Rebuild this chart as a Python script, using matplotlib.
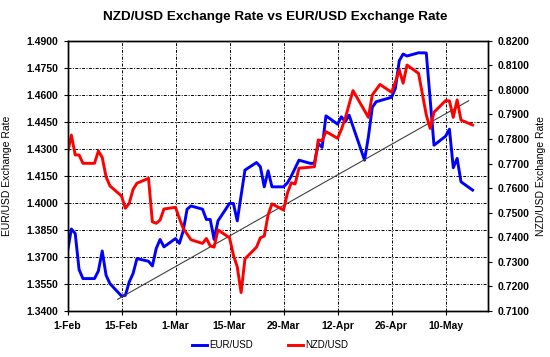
import matplotlib
matplotlib.use('Agg')
import matplotlib.pyplot as plt

# ---- data (day offsets from 1-Feb) ----
eur_days = [0, 1, 2, 3, 4, 7, 8, 9, 10, 11, 14, 15, 16, 17, 18, 21, 22, 23, 24, 25,
            28, 29, 30, 31, 32, 35, 36, 37, 38, 39, 42, 43, 44, 46, 49, 50, 51, 52, 53,
            56, 57, 58, 60, 63, 64, 65, 66, 67, 70, 71, 72, 73, 77, 78, 79, 80, 84, 85,
            86, 87, 88, 91, 93, 95, 98, 99, 100, 101, 102, 105]
eur_vals = [1.3730, 1.3855, 1.3830, 1.3630, 1.3580, 1.3580, 1.3622, 1.3733, 1.3598, 1.3552,
            1.3483, 1.3487, 1.3561, 1.3608, 1.3691, 1.3676, 1.3650, 1.3747, 1.3797, 1.3756,
            1.3802, 1.3775, 1.3845, 1.3965, 1.3983, 1.3965, 1.3908, 1.3908, 1.3797, 1.3900,
            1.3997, 1.3997, 1.3900, 1.4182, 1.4224, 1.4200, 1.4089, 1.4178, 1.4089,
            1.4089, 1.4111, 1.4148, 1.4237, 1.4219, 1.4220, 1.4330, 1.4308, 1.4483, 1.4437,
            1.4478, 1.4450, 1.4487, 1.4237, 1.4367, 1.4530, 1.4561, 1.4586, 1.4636,
            1.4789, 1.4826, 1.4815, 1.4833, 1.4832, 1.4320, 1.4370, 1.4409, 1.4195, 1.4247,
            1.4117, 1.4071]

nzd_days = [0, 1, 2, 3, 4, 7, 8, 9, 10, 11, 14, 15, 16, 17, 18, 21, 22, 23, 24, 25,
            28, 29, 30, 32, 35, 36, 37, 38, 39, 42, 43, 44, 45, 46, 49, 50, 51, 52, 53,
            56, 57, 58, 59, 60, 64, 65, 66, 67, 70, 71, 72, 74, 78, 79, 81, 84, 85, 86,
            87, 88, 91, 93, 94, 95, 98, 99, 100, 101, 102, 105]
nzd_vals = [0.7742, 0.7816, 0.7735, 0.7735, 0.7701, 0.7701, 0.7751, 0.7725, 0.7646, 0.7609,
            0.7568, 0.7518, 0.7538, 0.7595, 0.7620, 0.7640, 0.7463, 0.7457, 0.7470, 0.7515,
            0.7522, 0.7477, 0.7436, 0.7390, 0.7375, 0.7395, 0.7365, 0.7360, 0.7430,
            0.7398, 0.7328, 0.7280, 0.7175, 0.7312, 0.7360, 0.7398, 0.7405, 0.7491, 0.7536,
            0.7511, 0.7579, 0.7622, 0.7617, 0.7681, 0.7687, 0.7796, 0.7793, 0.7830,
            0.7803, 0.7839, 0.7885, 0.7997, 0.7888, 0.7979, 0.8022, 0.7990, 0.8033, 0.8081,
            0.8027, 0.8101, 0.8067, 0.7898, 0.7843, 0.7909, 0.7956, 0.7955, 0.7888, 0.7959,
            0.7877, 0.7857]

trend_days = [13, 104]
trend_vals = [1.3465, 1.4567]

xtick_days = [0, 14, 28, 42, 56, 70, 84, 98]
xtick_labels = ['1-Feb', '15-Feb', '1-Mar', '15-Mar', '29-Mar', '12-Apr', '26-Apr', '10-May']
left_ticks = [1.3400, 1.3550, 1.3700, 1.3850, 1.4000, 1.4150, 1.4300, 1.4450, 1.4600, 1.4750, 1.4900]
right_ticks = [0.7100, 0.7200, 0.7300, 0.7400, 0.7500, 0.7600, 0.7700, 0.7800, 0.7900, 0.8000, 0.8100, 0.8200]

FONT = ['Liberation Sans', 'DejaVu Sans']
plt.rcParams['font.family'] = FONT

fig = plt.figure(figsize=(5.5, 3.57), dpi=100)
ax = fig.add_axes([67.5 / 550, 46 / 357, 420.5 / 550, 270.3 / 357])
ax2 = ax.twinx()

ax.set_xlim(0, 109)
ax.set_ylim(1.34, 1.49)
ax2.set_ylim(0.71, 0.82)

ax.set_xticks(xtick_days)
ax.set_xticklabels(xtick_labels)
ax.set_yticks(left_ticks)
ax.set_yticklabels([f'{v:.4f}' for v in left_ticks])
ax2.set_yticks(right_ticks)
ax2.set_yticklabels([f'{v:.4f}' for v in right_ticks])

ax.grid(True, color='black', linestyle=(0, (3, 1.5, 1, 1.5)), linewidth=0.7)
ax.set_axisbelow(True)

for a in (ax, ax2):
    for s in a.spines.values():
        s.set_linewidth(1.0)
        s.set_color('black')

ax.tick_params(axis='both', direction='out', length=3, width=0.8, pad=4,
               labelsize=7.5, colors='black')
ax2.tick_params(axis='y', direction='out', length=3, width=0.8, pad=4,
                labelsize=7.5, colors='black')
for lab in ax.get_xticklabels() + ax.get_yticklabels() + ax2.get_yticklabels():
    lab.set_fontweight('bold')

l1, = ax.plot(eur_days, eur_vals, color='#0000FF', lw=2.1, label='EUR/USD',
              solid_joinstyle='round')
ax.plot(trend_days, trend_vals, color='#404040', lw=0.8)
l2, = ax2.plot(nzd_days, nzd_vals, color='#FF0000', lw=2.1, label='NZD/USD',
               solid_joinstyle='round')

ax.set_ylabel('EUR/USD Exchange Rate', fontsize=7.5)
ax.yaxis.set_label_coords(-0.132, 0.5)
ax2.set_ylabel('NZD/USD Exchange Rate', fontsize=7.5, rotation=90)
ax2.yaxis.set_label_coords(1.113, 0.5)

fig.text(0.5, 1 - 17 / 357, 'NZD/USD Exchange Rate vs EUR/USD Exchange Rate',
         ha='center', va='center', fontsize=9.7, fontweight='bold')

fig.legend(handles=[l1, l2], loc='center', bbox_to_anchor=(270 / 550, 1 - 345 / 357),
           ncol=2, frameon=False, fontsize=7, handlelength=1.6, handletextpad=0.2,
           columnspacing=3.6)

fig.savefig('out.png', dpi=100)
